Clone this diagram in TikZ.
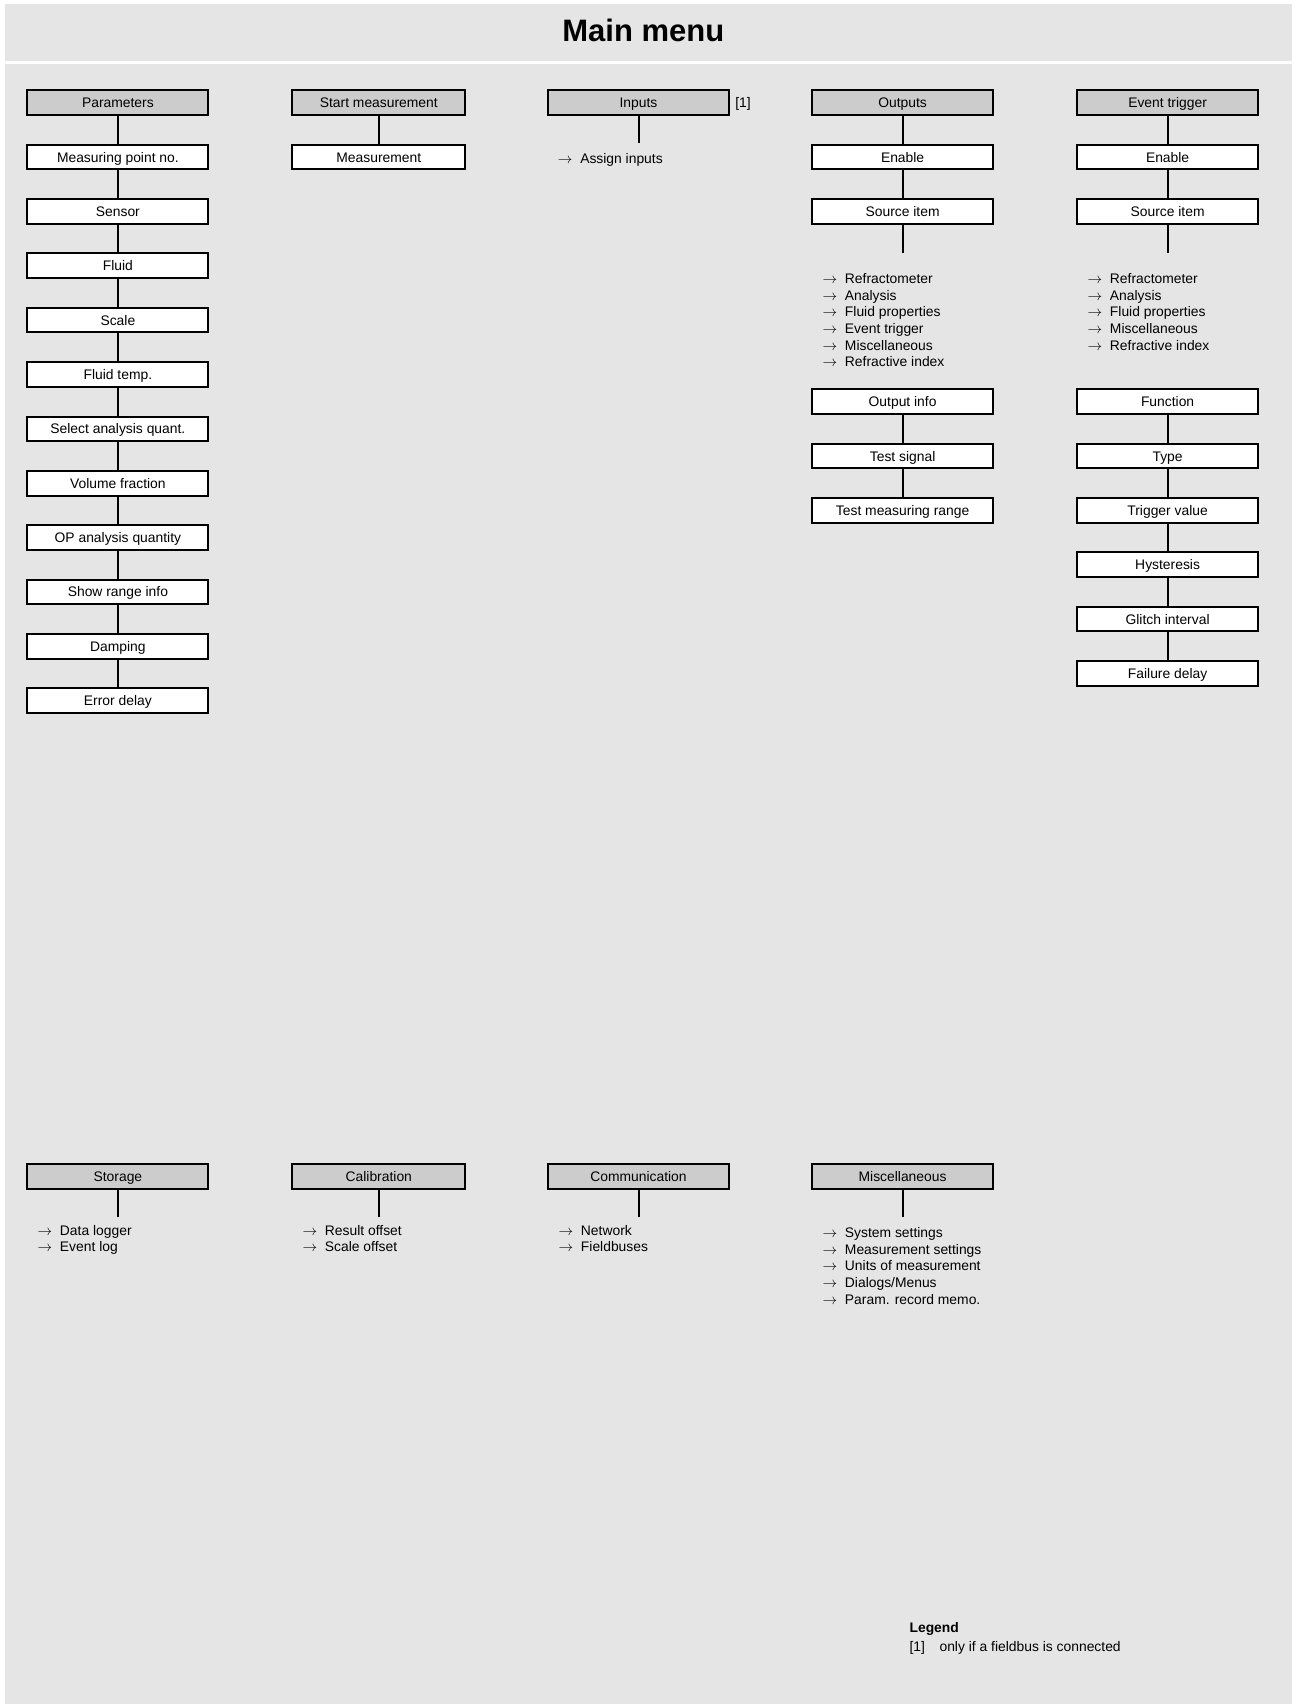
\documentclass[tikz,border=0pt]{standalone}
\usepackage{fontspec}
\setmainfont{Liberation Sans}
\definecolor{bggray}{HTML}{E5E5E5}
\definecolor{headgray}{HTML}{CCCCCC}
\newcommand{\arr}{\makebox[16.8pt][l]{\fontsize{11}{12.5}\selectfont$\rightarrow$}}
\begin{document}
\begin{tikzpicture}[x=0.75pt,y=-0.75pt,
 box/.style={draw=black,line width=1.5pt,fill=white,minimum width=135.75pt,minimum height=18.5pt,inner sep=0pt,text height=7.5pt,text depth=0pt,font=\fontsize{10.4}{12.5}\selectfont},
 head/.style={box,fill=headgray},
 colB/.style={minimum width=129.75pt},
 conn/.style={line width=1.5pt},
 item/.style={anchor=base west,inner sep=0pt,font=\fontsize{10.4}{12.5}\selectfont},
]
\useasboundingbox (0,0) rectangle (1298,1704);
\fill[bggray] (5,4) rectangle (1292,61);
\fill[bggray] (5,64) rectangle (1292,1704);
\node[anchor=base,inner sep=0pt,font=\fontsize{23.25}{28}\selectfont\bfseries] (title) at (643.3,41.3) {Main menu};

% ---------- Parameters column ----------
\node[head] (p0) at (117.9,102.75) {Parameters};
\node[box] (p1) at (117.9,157.1) {Measuring point no.};
\node[box] (p2) at (117.9,211.45) {Sensor};
\node[box] (p3) at (117.9,265.8) {Fluid};
\node[box] (p4) at (117.9,320.15) {Scale};
\node[box] (p5) at (117.9,374.5) {Fluid temp.};
\node[box] (p6) at (117.9,428.85) {Select analysis quant.};
\node[box] (p7) at (117.9,483.2) {Volume fraction};
\node[box] (p8) at (117.9,537.55) {OP analysis quantity};
\node[box] (p9) at (117.9,591.9) {Show range info};
\node[box] (p10) at (117.9,646.25) {Damping};
\node[box] (p11) at (117.9,700.6) {Error delay};
\foreach \a/\b in {p0/p1,p1/p2,p2/p3,p3/p4,p4/p5,p5/p6,p6/p7,p7/p8,p8/p9,p9/p10,p10/p11}
  \draw[conn] (\a.south) -- (\b.north);

% ---------- Start measurement ----------
\node[head,colB] (s0) at (378.8,102.75) {Start measurement};
\node[box,colB] (s1) at (378.8,157.1) {Measurement};
\draw[conn] (s0.south) -- (s1.north);

% ---------- Inputs ----------
\node[head] (i0) at (638.5,102.75) {Inputs};
\node[item] (inote) at (735,107.75) {[1]};
\coordinate (iend) at (638.5,143);
\draw[conn] (i0.south) -- (iend);
\node[item] (i1) at (557.6,163) {\arr Assign inputs};

% ---------- Outputs ----------
\node[head] (o0) at (902.6,102.75) {Outputs};
\node[box] (o1) at (902.6,157.1) {Enable};
\node[box] (o2) at (902.6,211.45) {Source item};
\coordinate (oend) at (902.6,253.3);
\draw[conn] (o0.south) -- (o1.north);
\draw[conn] (o1.south) -- (o2.north);
\draw[conn] (o2.south) -- (oend);
\node[item] (ol1) at (822.3,283.3) {\arr Refractometer};
\node[item] (ol2) at (822.3,300) {\arr Analysis};
\node[item] (ol3) at (822.3,316.6) {\arr Fluid properties};
\node[item] (ol4) at (822.3,333.3) {\arr Event trigger};
\node[item] (ol5) at (822.3,350) {\arr Miscellaneous};
\node[item] (ol6) at (822.3,366.6) {\arr Refractive index};
\node[box] (o3) at (902.6,401.68) {Output info};
\node[box] (o4) at (902.6,456.03) {Test signal};
\node[box] (o5) at (902.6,510.38) {Test measuring range};
\draw[conn] (o3.south) -- (o4.north);
\draw[conn] (o4.south) -- (o5.north);

% ---------- Event trigger ----------
\node[head] (e0) at (1167.6,102.75) {Event trigger};
\node[box] (e1) at (1167.6,157.1) {Enable};
\node[box] (e2) at (1167.6,211.45) {Source item};
\coordinate (eend) at (1167.6,253.3);
\draw[conn] (e0.south) -- (e1.north);
\draw[conn] (e1.south) -- (e2.north);
\draw[conn] (e2.south) -- (eend);
\node[item] (el1) at (1087.3,283.3) {\arr Refractometer};
\node[item] (el2) at (1087.3,300) {\arr Analysis};
\node[item] (el3) at (1087.3,316.6) {\arr Fluid properties};
\node[item] (el4) at (1087.3,333.3) {\arr Miscellaneous};
\node[item] (el5) at (1087.3,350) {\arr Refractive index};
\node[box] (e3) at (1167.6,401.68) {Function};
\node[box] (e4) at (1167.6,456.03) {Type};
\node[box] (e5) at (1167.6,510.38) {Trigger value};
\node[box] (e6) at (1167.6,564.73) {Hysteresis};
\node[box] (e7) at (1167.6,619.08) {Glitch interval};
\node[box] (e8) at (1167.6,673.43) {Failure delay};
\foreach \a/\b in {e3/e4,e4/e5,e5/e6,e6/e7,e7/e8}
  \draw[conn] (\a.south) -- (\b.north);

% ---------- Bottom row ----------
\node[head] (st0) at (117.9,1176.7) {Storage};
\coordinate (stend) at (117.9,1216.7);
\draw[conn] (st0.south) -- (stend);
\node[item] (st1) at (37.3,1235) {\arr Data logger};
\node[item] (st2) at (37.3,1251.7) {\arr Event log};

\node[head,colB] (ca0) at (378.8,1176.7) {Calibration};
\coordinate (caend) at (378.8,1216.7);
\draw[conn] (ca0.south) -- (caend);
\node[item] (ca1) at (302.3,1235) {\arr Result offset};
\node[item] (ca2) at (302.3,1251.7) {\arr Scale offset};

\node[head] (co0) at (638.5,1176.7) {Communication};
\coordinate (coend) at (638.5,1216.7);
\draw[conn] (co0.south) -- (coend);
\node[item] (co1) at (558.3,1235) {\arr Network};
\node[item] (co2) at (558.3,1251.7) {\arr Fieldbuses};

\node[head] (m0) at (902.6,1176.7) {Miscellaneous};
\coordinate (mend) at (902.6,1216.7);
\draw[conn] (m0.south) -- (mend);
\node[item] (m1) at (822.3,1237.3) {\arr System settings};
\node[item] (m2) at (822.3,1254) {\arr Measurement settings};
\node[item] (m3) at (822.3,1270.6) {\arr Units of measurement};
\node[item] (m4) at (822.3,1287.3) {\arr Dialogs/Menus};
\node[item] (m5) at (822.3,1304) {\arr Param. record memo.};

% ---------- Legend ----------
\node[item,font=\fontsize{10.4}{12.5}\selectfont\bfseries] (lg) at (909.3,1632.3) {Legend};
\node[item] (lg1) at (909.3,1651) {[1]};
\node[item] (lg2) at (939.3,1651) {only if a fieldbus is connected};
\end{tikzpicture}
\end{document}
